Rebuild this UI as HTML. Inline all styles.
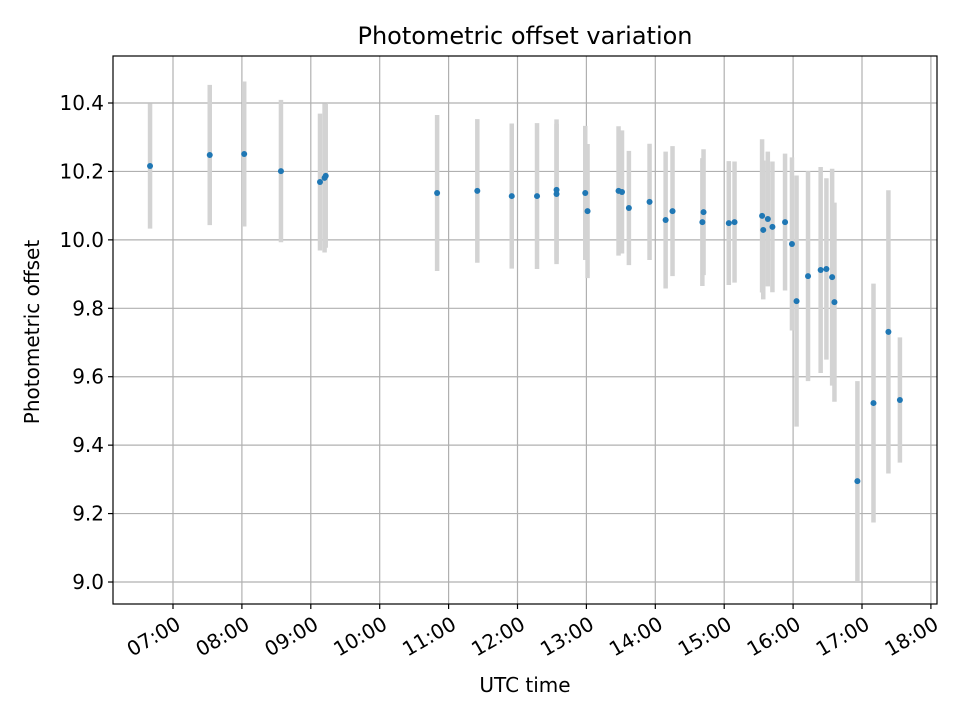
<!DOCTYPE html>
<html><head><meta charset="utf-8"><style>
html,body{margin:0;padding:0;background:#fff;}
svg{display:block;font-family:"DejaVu Sans","Liberation Sans",sans-serif;}
</style></head><body>
<svg id="chart" width="960" height="720" viewBox="0 0 960 720"></svg>
<script>
const times = ["06:40","07:32","08:02","08:34","09:08","09:12","09:13","10:50","11:25","11:55","12:17","12:34","12:34","12:59","13:01","13:28","13:31","13:37","13:55","14:09","14:15","14:41","14:42","15:04","15:09","15:33","15:34","15:38","15:42","15:53","15:59","16:03","16:13","16:24","16:29","16:34","16:36","16:56","17:10","17:23","17:33"];
const offsets = [10.216,10.248,10.251,10.201,10.169,10.181,10.187,10.137,10.143,10.128,10.128,10.146,10.134,10.137,10.084,10.143,10.140,10.093,10.111,10.058,10.084,10.052,10.081,10.049,10.052,10.070,10.029,10.061,10.038,10.052,9.988,9.821,9.894,9.912,9.915,9.891,9.818,9.295,9.523,9.731,9.532];
const errors = [0.183,0.205,0.212,0.208,0.200,0.218,0.210,0.228,0.210,0.212,0.213,0.206,0.205,0.196,0.196,0.189,0.180,0.167,0.170,0.200,0.190,0.187,0.184,0.181,0.177,0.224,0.203,0.197,0.191,0.200,0.253,0.367,0.307,0.301,0.265,0.317,0.291,0.292,0.349,0.414,0.183];
const yTicks = [9.0,9.2,9.4,9.6,9.8,10.0,10.2,10.4];
const xTickLabels = ["07:00","08:00","09:00","10:00","11:00","12:00","13:00","14:00","15:00","16:00","17:00","18:00"];

const L=113,R=937,T=56,B=604;
const NS="http://www.w3.org/2000/svg";
const svg=document.getElementById('chart');
function toH(s){const p=s.split(':');return +p[0]+(+p[1])/60;}
function xs(h){return 173+(h-7)*68.9;}
function ys(v){return 103+(10.4-v)/0.2*68.43;}
function el(tag,attrs,parent){const e=document.createElementNS(NS,tag);for(const k in attrs)e.setAttribute(k,attrs[k]);(parent||svg).appendChild(e);return e;}

const grid=el('g',{});


const axes=el('g',{});



yTicks.forEach(v=>{
  const y=ys(v);
  const gl=el('line',{x1:L,x2:R,y1:y,y2:y,stroke:'#b0b0b0','stroke-width':1.2},grid);
  
  
  el('line',{x1:L-5,x2:L,y1:y,y2:y,stroke:'#000','stroke-width':1.2},axes);
  const t=el('text',{x:L-9,y:y+7,'text-anchor':'end','font-size':20},axes);
  t.textContent=v.toFixed(1);
  
  
});
xTickLabels.forEach(s=>{
  const x=xs(toH(s));
  const gl=el('line',{x1:x,x2:x,y1:T,y2:B,stroke:'#b0b0b0','stroke-width':1.2},grid);
  
  
  el('line',{x1:x,x2:x,y1:B,y2:B+5,stroke:'#000','stroke-width':1.2},axes);
  const ax=x+9, ay=B+24;
  const t=el('text',{x:ax,y:ay,'text-anchor':'end','font-size':20,transform:`rotate(-30 ${ax} ${ay})`},axes);
  t.textContent=s;
  
  
});

const series=el('g',{});


times.forEach((s,i)=>{
  const x=xs(toH(s));
  const b=el('line',{x1:x,x2:x,y1:ys(offsets[i]+errors[i]),y2:ys(offsets[i]-errors[i]),stroke:'#d3d3d3','stroke-width':4.5},series);
  
  
});
times.forEach((s,i)=>{
  const c=el('circle',{cx:xs(toH(s)),cy:ys(offsets[i]),r:3,fill:'#1f77b4'},series);
  
  
});

const frame=el('rect',{x:L,y:T,width:R-L,height:B-T,fill:'none',stroke:'#000','stroke-width':1.2});



const title=el('text',{x:(L+R)/2,y:44,'text-anchor':'middle','font-size':24});
title.textContent='Photometric offset variation';


const xl=el('text',{x:(L+R)/2,y:692,'text-anchor':'middle','font-size':20});
xl.textContent='UTC time';


const yl=el('text',{x:39,y:(T+B)/2+2,'text-anchor':'middle','font-size':20,transform:`rotate(-90 39 ${(T+B)/2+2})`});
yl.textContent='Photometric offset';


</script>
</body></html>
